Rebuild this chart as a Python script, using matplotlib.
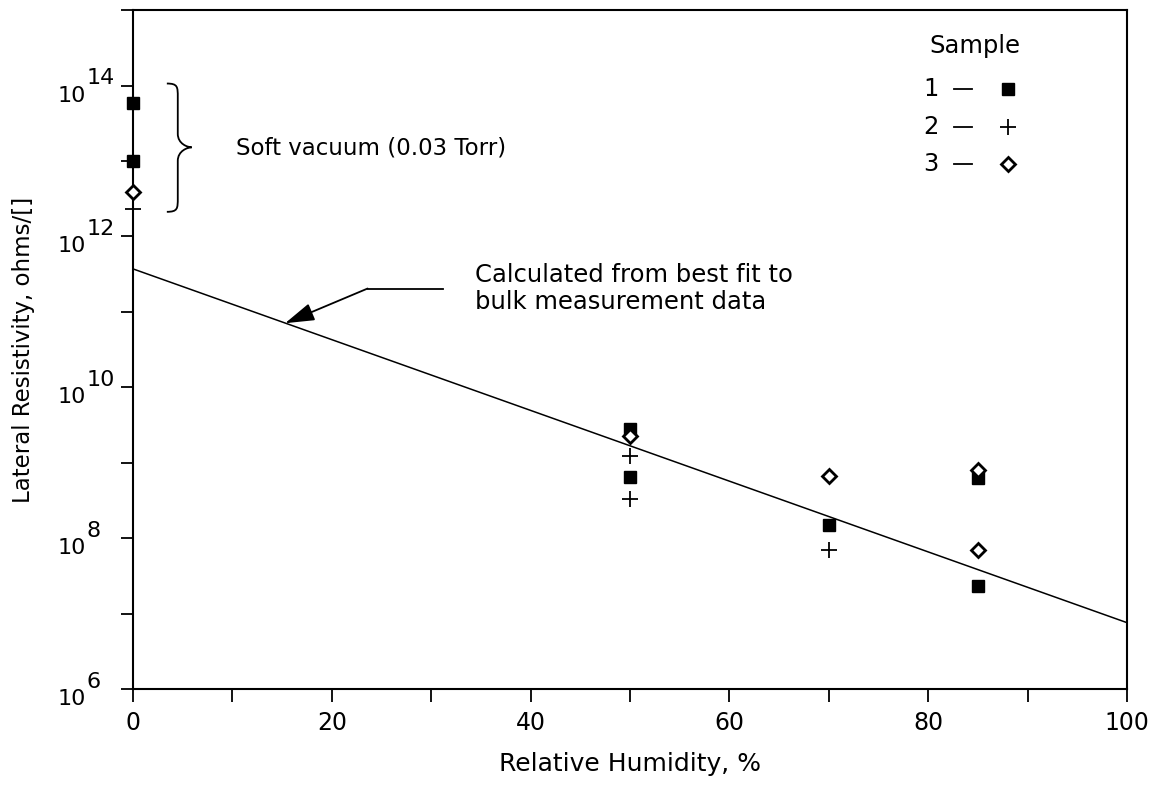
import numpy as np
import matplotlib
matplotlib.use('Agg')
import matplotlib.pyplot as plt
import matplotlib.transforms as mtransforms
from matplotlib.path import Path
from matplotlib.patches import PathPatch

plt.rcParams['font.family'] = ['DejaVu Sans']

# data (log10 of lateral resistivity, ohms/sq)
s1_rh = [0, 0, 50, 50, 70, 85, 85]
s1_log = [13.77, 13.0, 9.45, 8.81, 8.17, 8.80, 7.37]
s2_rh = [0, 50, 50, 70]
s2_log = [12.36, 9.09, 8.52, 7.84]
s3_rh = [0, 50, 70, 85, 85]
s3_log = [12.59, 9.35, 8.83, 8.90, 7.84]

fit_rh = [0, 100]
fit_log = [11.57, 6.88]

legend_names = ['1', '2', '3']
ytick_exp = [6, 8, 10, 12, 14]

fig = plt.figure(figsize=(11.57, 7.86), dpi=100)
ax = fig.add_axes([0.115, 0.1234, 0.859, 0.8636])
ax.set_yscale('log')
ax.set_xlim(0, 100)
ax.set_ylim(1e6, 1e15)

ax.plot(fit_rh, 10.0 ** np.array(fit_log), color='black', lw=1.1)

sq = dict(marker='s', ls='none', color='black', ms=9, clip_on=False, zorder=5)
pl = dict(marker='+', ls='none', color='black', ms=11, mew=1.3, clip_on=False, zorder=5)
dm = dict(marker='D', ls='none', mfc='white', mec='black', ms=7, mew=2, clip_on=False, zorder=6)

ax.plot(s1_rh, 10.0 ** np.array(s1_log), **sq)
ax.plot(s2_rh, 10.0 ** np.array(s2_log), **pl)
ax.plot(s3_rh, 10.0 ** np.array(s3_log), **dm)

# ticks
ax.set_xticks(np.arange(0, 101, 10))
ax.set_xticklabels([str(v) if v % 20 == 0 else '' for v in range(0, 101, 10)])
decs = np.arange(6, 16)
ax.set_yticks(10.0 ** decs)
ax.set_yticklabels([])
ax.yaxis.set_minor_locator(matplotlib.ticker.NullLocator())
ax.tick_params(axis='x', direction='out', length=9, width=1.3, labelsize=17, pad=7)
ax.tick_params(axis='y', direction='out', length=9, width=1.3)
for sp in ax.spines.values():
    sp.set_linewidth(1.5)

# y tick labels: "10" with a full-size raised exponent
tr = mtransforms.blended_transform_factory(ax.transAxes, ax.transData)
for e in ytick_exp:
    base = ax.text(-0.0755, 10.0 ** e, '10', fontsize=16, ha='left', va='top',
                   transform=tr, clip_on=False)
    ax.annotate(str(e), xy=(1, 1), xycoords=base, xytext=(0, -2),
                textcoords='offset points', fontsize=16, ha='left', va='bottom')

ax.set_xlabel('Relative Humidity, %', fontsize=18, labelpad=12)
ax.set_ylabel('Lateral Resistivity, ohms/[]', fontsize=16.5)
ax.yaxis.set_label_coords(-0.099, 0.5)

# brace for soft vacuum group
bx0, bx1, bxt = 0.034, 0.045, 0.059
by0, by1, byt = 0.892, 0.703, 0.798
verts = [(bx0, by0), (bx1, by0), (bx1, by0 - 0.005), (bx1, by0 - 0.02),
         (bx1, byt + 0.02),
         (bx1, byt + 0.005), (bxt - 0.004, byt), (bxt, byt),
         (bxt - 0.004, byt), (bx1, byt - 0.005), (bx1, byt - 0.02),
         (bx1, by1 + 0.02),
         (bx1, by1 + 0.005), (bx1, by1), (bx0, by1)]
codes = [Path.MOVETO, Path.CURVE4, Path.CURVE4, Path.CURVE4,
         Path.LINETO,
         Path.CURVE4, Path.CURVE4, Path.CURVE4,
         Path.CURVE4, Path.CURVE4, Path.CURVE4,
         Path.LINETO,
         Path.CURVE4, Path.CURVE4, Path.CURVE4]
ax.add_patch(PathPatch(Path(verts, codes), transform=ax.transAxes,
                       fill=False, lw=1.3, color='black'))
ax.text(10.4, 10 ** 13.17, 'Soft vacuum (0.03 Torr)', fontsize=16.5, va='center', ha='left')

# fit annotation
ax.plot([23.6, 31.2], [10 ** 11.31, 10 ** 11.31], color='black', lw=1.3)
ax.annotate('', xy=(15.3, 10 ** 10.85), xytext=(23.6, 10 ** 11.31),
            arrowprops=dict(arrowstyle='-|>,head_length=1.8,head_width=0.55',
                            color='black', lw=1.3, shrinkA=0, shrinkB=0))
ax.text(34.4, 10 ** 11.31, 'Calculated from best fit to\nbulk measurement data',
        fontsize=17.5, va='center', ha='left', linespacing=1.2)

# legend drawn by hand
ax.text(84.7, 10 ** 14.53, 'Sample', fontsize=17.5, ha='center', va='center')
leg_y = [13.95, 13.45, 12.96]
leg_styles = [sq, pl, dm]
for name, ly, st in zip(legend_names, leg_y, leg_styles):
    ax.text(79.5, 10 ** ly, name, fontsize=17.5, ha='left', va='center')
    ax.plot([82.6, 84.4], [10 ** ly, 10 ** ly], color='black', lw=1.3)
    ax.plot([88.0], [10 ** ly], **st)

fig.savefig('out.png', dpi=100)
